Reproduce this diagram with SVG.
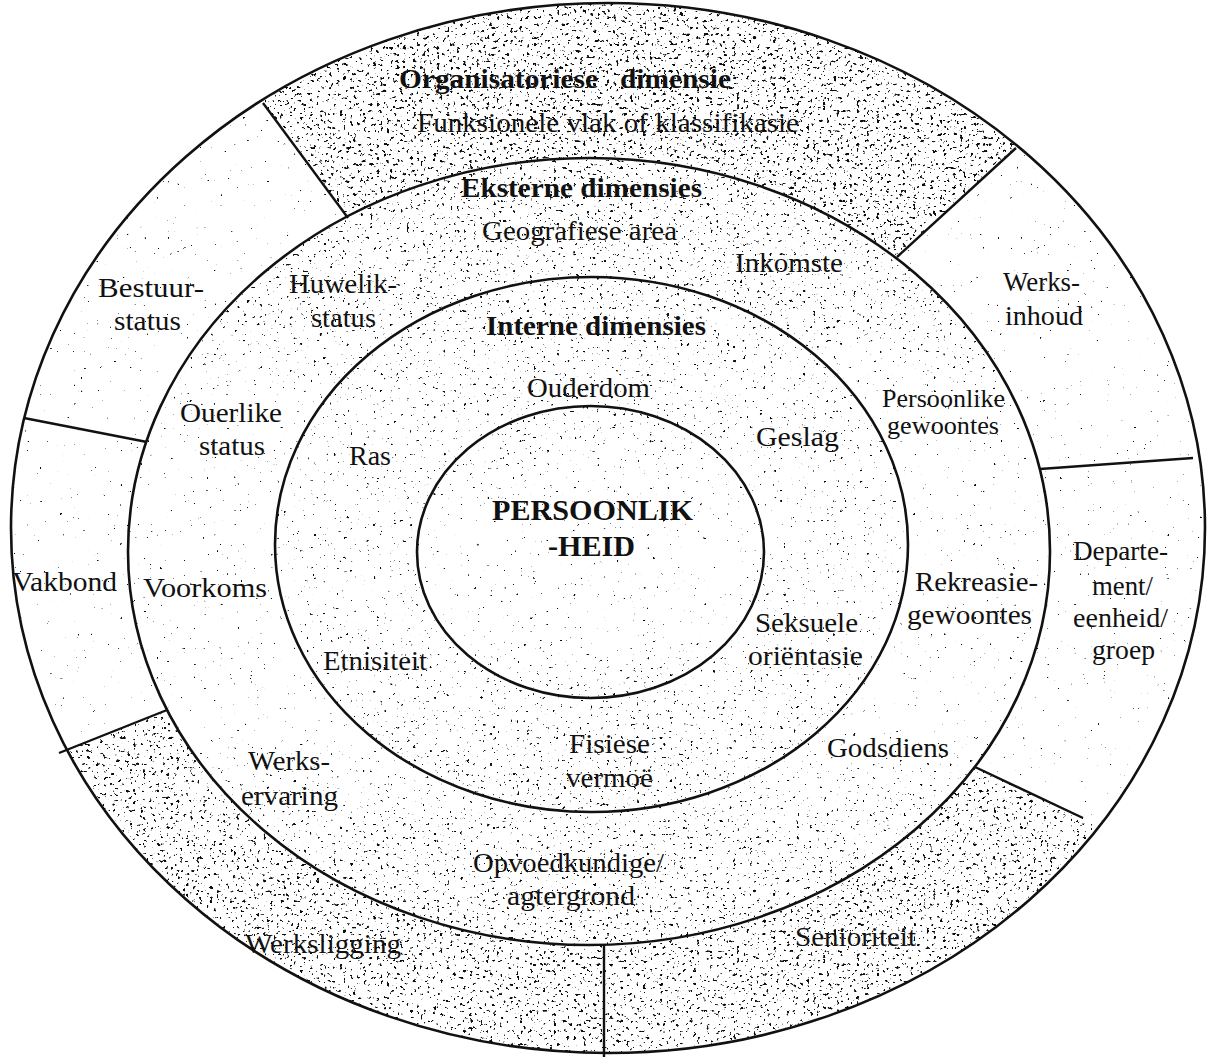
<svg xmlns="http://www.w3.org/2000/svg" width="1210" height="1057" viewBox="0 0 1210 1057">
  <style>
    .ring { fill: none; stroke: #111; stroke-width: 2.6; }
    .divider { stroke: #111; stroke-width: 2.4; fill: none; }
    .lbl { font-family: "Liberation Serif", "Times New Roman", serif; font-size: 27px; fill: #111; }
    .sm { font-size: 25px; }
    .hd { font-weight: bold; font-size: 28px; }
    .core { font-family: "Liberation Serif", "Times New Roman", serif; font-size: 30px; font-weight: bold; fill: #111; }
  </style>
  <defs>
    <!-- stipple shading: noise + density bias, thresholded into small black specks -->
    <filter id="grain" x="0" y="0" width="1210" height="1057" filterUnits="userSpaceOnUse" color-interpolation-filters="sRGB">
      <feTurbulence type="fractalNoise" baseFrequency="0.3" numOctaves="2" seed="11" result="raw"/>
      <feColorMatrix in="raw" type="matrix" values="1 0 0 0 0  0 1 0 0 0  0 0 1 0 0  0 0 0 0 1" result="noise"/>
      <feComposite in="noise" in2="SourceGraphic" operator="arithmetic" k2="1" k3="1" result="sum"/>
      <feColorMatrix in="sum" type="matrix" values="0 0 0 0 0.05  0 0 0 0 0.05  0 0 0 0 0.05  1 0 0 0 0"/>
      <feComponentTransfer>
        <feFuncA type="linear" slope="16" intercept="-12.8"/>
      </feComponentTransfer>
    </filter>

    <mask id="m-outer" maskUnits="userSpaceOnUse" x="0" y="0" width="1210" height="1057">
      <ellipse cx="608" cy="528" rx="597" ry="525" fill="#fff"/>
      <ellipse cx="589" cy="551.5" rx="461" ry="393.5" fill="#000"/>
    </mask>
    <mask id="m-mid" maskUnits="userSpaceOnUse" x="0" y="0" width="1210" height="1057">
      <ellipse cx="589" cy="551.5" rx="461" ry="393.5" fill="#fff"/>
      <ellipse cx="591.5" cy="544.5" rx="316.5" ry="267.5" fill="#000"/>
    </mask>
    <mask id="m-in" maskUnits="userSpaceOnUse" x="0" y="0" width="1210" height="1057">
      <ellipse cx="591.5" cy="544.5" rx="316.5" ry="267.5" fill="#fff"/>
      <ellipse cx="590.5" cy="552" rx="173.5" ry="146" fill="#000"/>
    </mask>
    <clipPath id="c-core">
      <ellipse cx="590.5" cy="552" rx="173.5" ry="146"/>
    </clipPath>
    <clipPath id="c-top">
      <polygon points="348,218 172,-20 1199,-20 897,257 590,550"/>
    </clipPath>
    <clipPath id="c-bottom">
      <polygon points="590,550 167,710 -20,784 -20,1080 1230,1080 1230,887 975,767"/>
    </clipPath>

    <!-- density bias per height (grey level = speck density) -->
    <linearGradient id="d-mid" x1="0" y1="0" x2="0" y2="1">
      <stop offset="0.14" stop-color="#222222"/>
      <stop offset="0.30" stop-color="#1a1a1a"/>
      <stop offset="0.40" stop-color="#070707"/>
      <stop offset="0.68" stop-color="#070707"/>
      <stop offset="0.78" stop-color="#1a1a1a"/>
      <stop offset="0.90" stop-color="#222222"/>
    </linearGradient>
    <linearGradient id="d-in" x1="0" y1="0" x2="0" y2="1">
      <stop offset="0.26" stop-color="#1c1c1c"/>
      <stop offset="0.45" stop-color="#101010"/>
      <stop offset="0.62" stop-color="#101010"/>
      <stop offset="0.76" stop-color="#1e1e1e"/>
    </linearGradient>
    <linearGradient id="d-core" x1="0" y1="0" x2="0" y2="1">
      <stop offset="0.39" stop-color="#181818"/>
      <stop offset="0.50" stop-color="#080808"/>
      <stop offset="0.60" stop-color="#0a0a0a"/>
      <stop offset="0.66" stop-color="#1a1a1a"/>
    </linearGradient>
  </defs>

  <rect x="0" y="0" width="1210" height="1057" fill="#fff"/>

  <!-- stipple shading -->
  <g id="shading">
    <g mask="url(#m-outer)">
      <rect x="0" y="0" width="1210" height="1057" fill="#040404" filter="url(#grain)"/>
    </g>
    <g mask="url(#m-outer)" clip-path="url(#c-top)">
      <rect x="0" y="0" width="1210" height="1057" fill="#2a2a2a" filter="url(#grain)"/>
    </g>
    <g mask="url(#m-outer)" clip-path="url(#c-bottom)">
      <rect x="0" y="0" width="1210" height="1057" fill="#262626" filter="url(#grain)"/>
    </g>
    <g mask="url(#m-mid)">
      <rect x="0" y="0" width="1210" height="1057" fill="url(#d-mid)" filter="url(#grain)"/>
    </g>
    <g mask="url(#m-in)">
      <rect x="0" y="0" width="1210" height="1057" fill="url(#d-in)" filter="url(#grain)"/>
    </g>
    <g clip-path="url(#c-core)">
      <rect x="0" y="0" width="1210" height="1057" fill="url(#d-core)" filter="url(#grain)"/>
    </g>
  </g>

  <!-- segment dividers of the organisational ring -->
  <g id="segment-dividers">
    <line class="divider" x1="263" y1="103" x2="348" y2="218"/>
    <line class="divider" x1="1016" y1="148" x2="897" y2="257"/>
    <line class="divider" x1="1040" y1="469" x2="1193" y2="458"/>
    <line class="divider" x1="975" y1="767" x2="1083" y2="818"/>
    <line class="divider" x1="604" y1="944" x2="604" y2="1057"/>
    <line class="divider" x1="167" y1="710" x2="59" y2="753"/>
    <line class="divider" x1="24" y1="418" x2="147" y2="442"/>
  </g>

  <g id="ring-organisational">
    <ellipse class="ring" cx="608" cy="528" rx="597" ry="525"/>
    <text class="lbl hd" x="399" y="88" textLength="332" lengthAdjust="spacingAndGlyphs" word-spacing="14">Organisatoriese dimensie</text>
    <text class="lbl" x="417" y="132" textLength="382" lengthAdjust="spacingAndGlyphs">Funksionele vlak of klassifikasie</text>
    <text class="lbl" x="98" y="297" textLength="106" lengthAdjust="spacingAndGlyphs">Bestuur-</text>
    <text class="lbl" x="114" y="330" textLength="67" lengthAdjust="spacingAndGlyphs">status</text>
    <text class="lbl" x="1003" y="291" textLength="77" lengthAdjust="spacingAndGlyphs">Werks-</text>
    <text class="lbl" x="1005" y="325" textLength="78" lengthAdjust="spacingAndGlyphs">inhoud</text>
    <text class="lbl" x="12" y="591" textLength="105" lengthAdjust="spacingAndGlyphs">Vakbond</text>
    <text class="lbl" x="1073" y="560" textLength="95" lengthAdjust="spacingAndGlyphs">Departe-</text>
    <text class="lbl" x="1092" y="595" textLength="61" lengthAdjust="spacingAndGlyphs">ment/</text>
    <text class="lbl" x="1073" y="627" textLength="95" lengthAdjust="spacingAndGlyphs">eenheid/</text>
    <text class="lbl" x="1092" y="659" textLength="63" lengthAdjust="spacingAndGlyphs">groep</text>
    <text class="lbl" x="245" y="953" textLength="156" lengthAdjust="spacingAndGlyphs">Werksligging</text>
    <text class="lbl" x="795" y="946" textLength="121" lengthAdjust="spacingAndGlyphs">Senioriteit</text>
  </g>

  <g id="ring-external">
    <ellipse class="ring" cx="589" cy="551.5" rx="461" ry="393.5"/>
    <text class="lbl hd" x="461" y="197" textLength="241" lengthAdjust="spacingAndGlyphs">Eksterne dimensies</text>
    <text class="lbl" x="482" y="240" textLength="195" lengthAdjust="spacingAndGlyphs">Geografiese area</text>
    <text class="lbl" x="735" y="272" textLength="108" lengthAdjust="spacingAndGlyphs">Inkomste</text>
    <text class="lbl" x="289" y="293" textLength="108" lengthAdjust="spacingAndGlyphs">Huwelik-</text>
    <text class="lbl" x="311" y="327" textLength="65" lengthAdjust="spacingAndGlyphs">status</text>
    <text class="lbl" x="180" y="422" textLength="102" lengthAdjust="spacingAndGlyphs">Ouerlike</text>
    <text class="lbl" x="199" y="455" textLength="66" lengthAdjust="spacingAndGlyphs">status</text>
    <text class="lbl sm" x="882" y="407" textLength="123" lengthAdjust="spacingAndGlyphs">Persoonlike</text>
    <text class="lbl sm" x="887" y="434" textLength="112" lengthAdjust="spacingAndGlyphs">gewoontes</text>
    <text class="lbl" x="143" y="597" textLength="124" lengthAdjust="spacingAndGlyphs">Voorkoms</text>
    <text class="lbl" x="915" y="591" textLength="123" lengthAdjust="spacingAndGlyphs">Rekreasie-</text>
    <text class="lbl" x="907" y="624" textLength="125" lengthAdjust="spacingAndGlyphs">gewoontes</text>
    <text class="lbl" x="827" y="757" textLength="122" lengthAdjust="spacingAndGlyphs">Godsdiens</text>
    <text class="lbl" x="248" y="770" textLength="82" lengthAdjust="spacingAndGlyphs">Werks-</text>
    <text class="lbl" x="241" y="805" textLength="97" lengthAdjust="spacingAndGlyphs">ervaring</text>
    <text class="lbl" x="473" y="872" textLength="191" lengthAdjust="spacingAndGlyphs">Opvoedkundige/</text>
    <text class="lbl" x="507" y="905" textLength="128" lengthAdjust="spacingAndGlyphs">agtergrond</text>
  </g>

  <g id="ring-internal">
    <ellipse class="ring" cx="591.5" cy="544.5" rx="316.5" ry="267.5"/>
    <text class="lbl hd" x="486" y="335" textLength="220" lengthAdjust="spacingAndGlyphs">Interne dimensies</text>
    <text class="lbl" x="527" y="397" textLength="123" lengthAdjust="spacingAndGlyphs">Ouderdom</text>
    <text class="lbl" x="349" y="465" textLength="42" lengthAdjust="spacingAndGlyphs">Ras</text>
    <text class="lbl" x="756" y="446" textLength="83" lengthAdjust="spacingAndGlyphs">Geslag</text>
    <text class="lbl" x="755" y="632" textLength="103" lengthAdjust="spacingAndGlyphs">Seksuele</text>
    <text class="lbl" x="748" y="665" textLength="115" lengthAdjust="spacingAndGlyphs">oriëntasie</text>
    <text class="lbl" x="323" y="670" textLength="104" lengthAdjust="spacingAndGlyphs">Etnisiteit</text>
    <text class="lbl" x="569" y="753" textLength="81" lengthAdjust="spacingAndGlyphs">Fisiese</text>
    <text class="lbl" x="566" y="787" textLength="87" lengthAdjust="spacingAndGlyphs">vermoë</text>
  </g>

  <g id="core-personality">
    <ellipse class="ring" cx="590.5" cy="552" rx="173.5" ry="146"/>
    <text class="core" x="492" y="520" textLength="201" lengthAdjust="spacingAndGlyphs">PERSOONLIK</text>
    <text class="core" x="548" y="556" textLength="87" lengthAdjust="spacingAndGlyphs">-HEID</text>
  </g>
</svg>
